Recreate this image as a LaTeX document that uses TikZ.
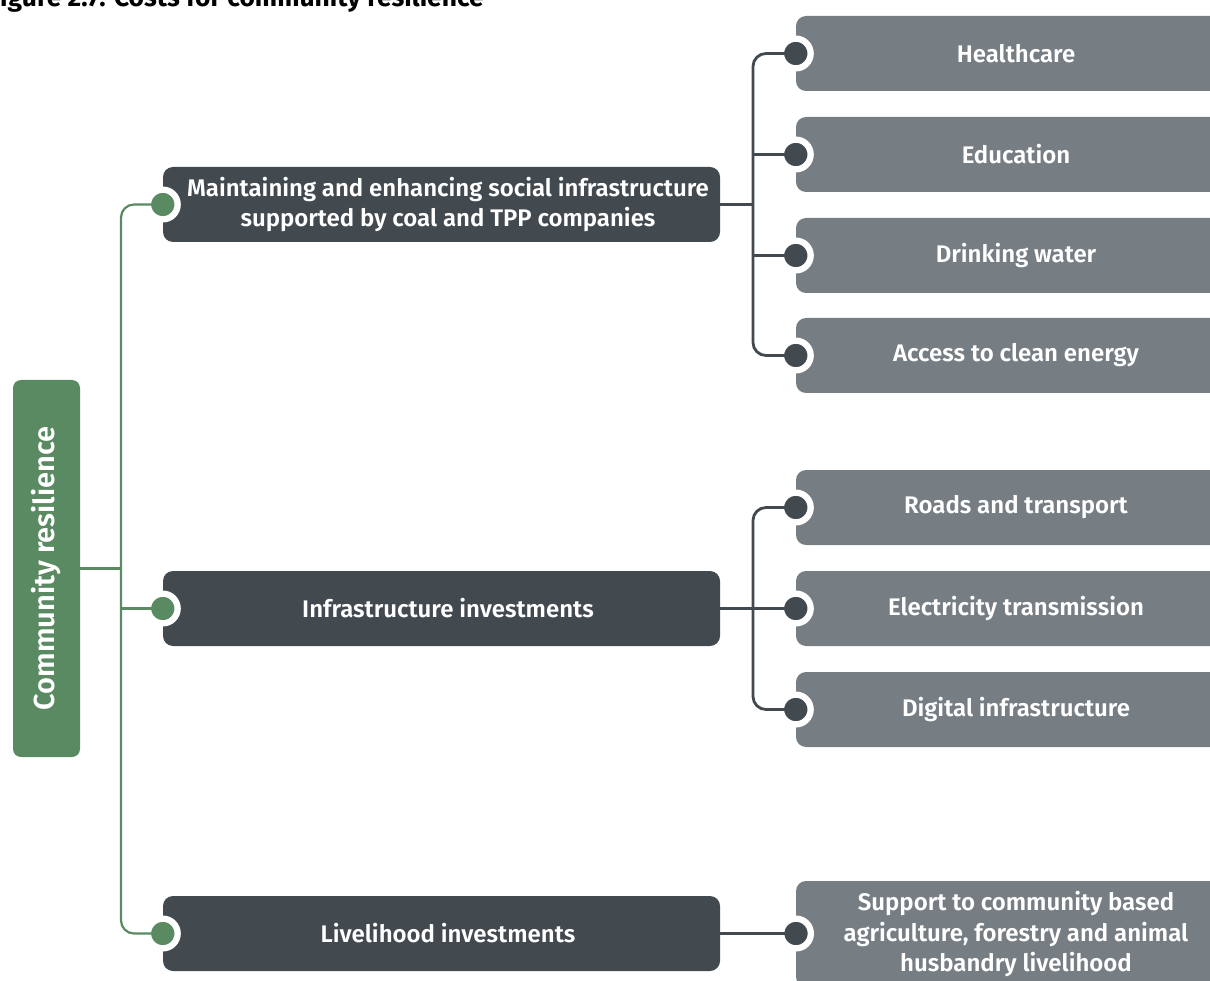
\documentclass[tikz,border=0pt]{standalone}
\usepackage{fontspec}
\IfFontExistsTF{Fira Sans SemiBold}{%
  \setmainfont{Fira Sans}[BoldFont={Fira Sans SemiBold}]}{%
  \setmainfont{Fira Sans}}
\newfontfamily\titlefont{Fira Sans}[UprightFont={* Bold}, BoldFont={* Bold}]
\definecolor{cgreen}{HTML}{5A8A61}
\definecolor{cdark}{HTML}{42494F}
\definecolor{cgray}{HTML}{767E84}
\tikzset{
  x=1pt, y=-1pt,
  lbl/.style={text=white, font=\bfseries\fontsize{24}{30.5}\selectfont, align=center, inner sep=0pt},
  rootbox/.style={fill=cgreen, rounded corners=8pt, minimum width=67pt, minimum height=377pt, inner sep=0pt},
  darkbox/.style={fill=cdark, rounded corners=10pt, minimum width=557pt, minimum height=75pt, inner sep=0pt},
  graybox/.style={fill=cgray, rounded corners=10pt, minimum width=440pt, minimum height=75pt, inner sep=0pt, lbl},
  gdot/.style={circle, fill=cgreen, draw=white, line width=6.3pt, minimum size=29.7pt, inner sep=0pt},
  ddot/.style={circle, fill=cdark, draw=white, line width=6.3pt, minimum size=29.7pt, inner sep=0pt},
  gline/.style={draw=cgreen, line width=2.2pt},
  dline/.style={draw=cdark, line width=2.8pt},
}
\begin{document}
\begin{tikzpicture}
\useasboundingbox (0,0) rectangle (1210,981);
\clip (0,0) rectangle (1210,981);
% title (cut at the top)
\node[anchor=base west, inner sep=0pt, font=\titlefont\fontsize{26.4}{30}\selectfont] (title) at (0,7) {\llap{F}igure 2.7: Costs for community resilience};
% root
\node[rootbox] (root) at (46.5,568.5) {};
\node[lbl, font=\bfseries\fontsize{29}{34}\selectfont, rotate=90] (roottext) at (46.5,568.5) {Community resilience};
% middle level
\node[darkbox, label={[lbl, xshift=6.5pt]center:{Maintaining and enhancing social infrastructure\\supported by coal and TPP companies}}] (m1) at (441.5,204.5) {};
\node[darkbox, label={[lbl, xshift=6.5pt]center:{Infrastructure investments}}] (m2) at (441.5,608.5) {};
\node[darkbox, label={[lbl, xshift=6.5pt]center:{Livelihood investments}}] (m3) at (441.5,933.5) {};
% leaves
\node[graybox] (l1) at (1016,53.5) {Healthcare};
\node[graybox] (l2) at (1016,154.5) {Education};
\node[graybox] (l3) at (1016,255.5) {Drinking water};
\node[graybox] (l4) at (1016,355.5) {Access to clean energy};
\node[graybox] (l5) at (1016,507.5) {Roads and transport};
\node[graybox] (l6) at (1016,608.5) {Electricity transmission};
\node[graybox] (l7) at (1016,709.5) {Digital infrastructure};
\node[graybox, minimum height=106pt] (l8) at (1016,934) {Support to community based\\agriculture, forestry and animal\\husbandry livelihood};
% dots
\node[gdot] (g1) at (m1.west) {};
\node[gdot] (g2) at (m2.west) {};
\node[gdot] (g3) at (m3.west) {};
\foreach \i in {1,...,7} { \node[ddot] (d\i) at (l\i.west) {}; }
\node[ddot] (d8) at (796,933.5) {};
% green connectors
\coordinate (gt) at (121,568.5);
\draw[gline] (root.east) -- (gt);
\draw[gline, rounded corners=13pt] (g1.center) -| (gt) |- (g3.center);
\draw[gline] (gt |- g2) -- (g2.center);
% dark connectors group 1
\coordinate (j1) at (753,204.5);
\draw[dline] (m1.east) -- (j1);
\draw[dline, rounded corners=13pt] (d1.center) -| (j1) |- (d4.center);
\draw[dline] (j1 |- d2) -- (d2.center);
\draw[dline] (j1 |- d3) -- (d3.center);
% group 2
\coordinate (j2) at (753,608.5);
\draw[dline] (m2.east) -- (d6.center);
\draw[dline, rounded corners=13pt] (d5.center) -| (j2) |- (d7.center);
% group 3
\draw[dline] (m3.east) -- (d8.center);
\end{tikzpicture}
\end{document}
